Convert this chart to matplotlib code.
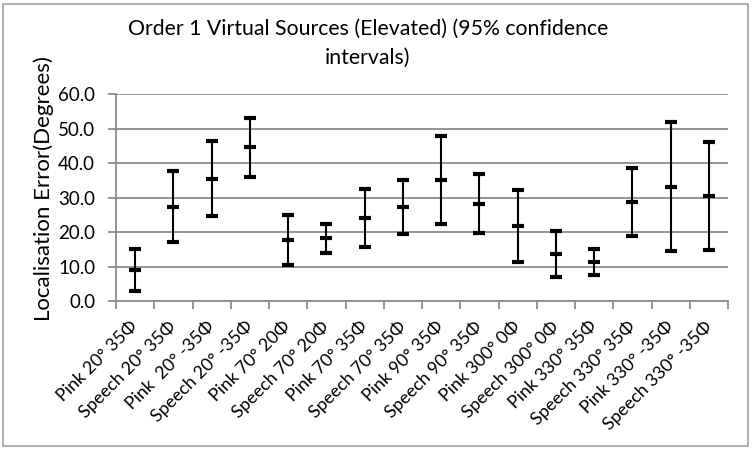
import matplotlib
matplotlib.use("Agg")
import matplotlib.pyplot as plt
from matplotlib.patches import Rectangle
import numpy as np

plt.rcParams['font.family'] = ['Lato', 'DejaVu Sans']

categories = ["Pink 20° 35Φ", "Speech 20° 35Φ", "Pink  20° -35Φ", "Speech 20° -35Φ",
              "Pink 70° 20Φ", "Speech 70° 20Φ", "Pink 70° 35Φ", "Speech 70° 35Φ",
              "Pink 90° 35Φ", "Speech 90° 35Φ", "Pink 300° 0Φ", "Speech 300° 0Φ",
              "Pink 330° 35Φ", "Speech 330° 35Φ", "Pink 330° -35Φ", "Speech 330° -35Φ"]
mean_vals = [9.1, 27.3, 35.5, 44.7, 17.8, 18.3, 24.2, 27.3,
             35.2, 28.3, 21.9, 13.7, 11.4, 28.7, 33.2, 30.5]
upper_vals = [15.2, 37.7, 46.4, 53.2, 25.1, 22.5, 32.6, 35.2,
              48.0, 36.8, 32.3, 20.5, 15.2, 38.6, 52.0, 46.2]
lower_vals = [3.1, 17.1, 24.8, 36.1, 10.5, 14.0, 15.7, 19.5,
              22.3, 19.7, 11.4, 7.0, 7.6, 18.8, 14.6, 15.0]
yticks = [0, 10, 20, 30, 40, 50, 60]

W, H = 753, 450
fig = plt.figure(figsize=(W / 100, H / 100), dpi=100)
fig.patches.append(Rectangle((3 / W, 4 / H), 745 / W, 442 / H, transform=fig.transFigure,
                             fill=False, edgecolor='#a0a0a0', linewidth=1.2))
ax = fig.add_axes([116 / W, 1 - 301.3 / H, 612 / W, (301.3 - 94.3) / H])

x = np.arange(len(categories))
mean = np.array(mean_vals)
yerr = np.vstack([mean - np.array(lower_vals), np.array(upper_vals) - mean])
ax.errorbar(x, mean, yerr=yerr, fmt='_', color='black', ecolor='black',
            elinewidth=1.5, capsize=4.5, capthick=3, markersize=9, markeredgewidth=3,
            zorder=3)

ax.set_xlim(-0.5, len(categories) - 0.5)
ax.set_ylim(0, 60)
ax.set_yticks(yticks)
ax.set_yticklabels([f"{v:.1f}" for v in yticks], fontsize=13.5)
ax.yaxis.grid(True, color='#8c8c8c', linewidth=1.3)
ax.set_axisbelow(True)
for s in ['top', 'right']:
    ax.spines[s].set_visible(False)
for s in ['left', 'bottom']:
    ax.spines[s].set_color('#8c8c8c')
    ax.spines[s].set_linewidth(1.3)

ax.set_xticks(x)
ax.set_xticklabels(categories, rotation=45, ha='right', va='center',
                   rotation_mode='anchor', fontsize=12.8)
ax.tick_params(axis='x', which='major', length=0, pad=16)
ax.set_xticks(np.arange(-0.5, len(categories)), minor=True)
ax.tick_params(axis='x', which='minor', length=6, color='#8c8c8c', width=1.3, direction='out')
ax.tick_params(axis='y', length=6, color='#8c8c8c', width=1.3, pad=9)

ax.set_ylabel("Localisation Error(Degrees)", fontsize=16, va='center')
ax.yaxis.set_label_coords((44 - 116) / 612, (301.3 - 188.5) / 207)
fig.text(368 / W, 1 - 43 / H, "Order 1 Virtual Sources (Elevated) (95% confidence\nintervals)",
         ha='center', va='center', fontsize=15.3, linespacing=1.55)

fig.savefig("out.png", dpi=100)
